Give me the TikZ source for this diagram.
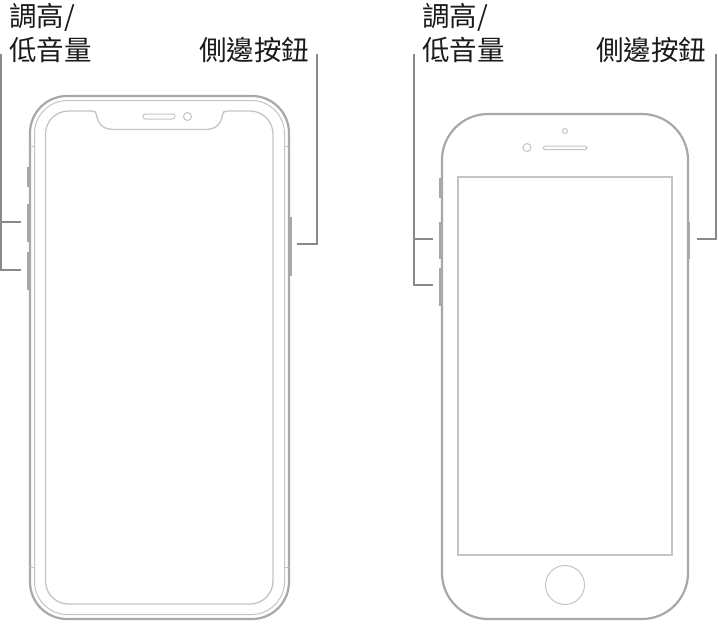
\documentclass[tikz,border=0pt]{standalone}
\usepackage{fontspec}
\newfontfamily\cjk{Noto Sans CJK TC}
\usepackage{xcolor}
\definecolor{body}{HTML}{A8A8A8}
\definecolor{thin}{HTML}{C4C4C4}
\definecolor{lead}{HTML}{8A8A8A}
\definecolor{ink}{HTML}{1A1A1A}
\tikzset{
  shell/.style={draw=body, line width=2.2pt, line join=round},
  glass/.style={draw=thin, line width=1.3pt},
  hair/.style={draw=thin, line width=1pt},
  key/.style={draw=body, line width=2.4pt},
  leader/.style={draw=lead, line width=1.8pt, line join=miter},
  lab/.style={text=ink, font=\cjk\fontsize{27.5}{27.5}\selectfont, anchor=base west, inner sep=0pt},
}
\begin{document}
\begin{tikzpicture}[x=1pt,y=-1pt]
  \useasboundingbox (0,0) rectangle (718,625);
  % phone with notch
  \draw[shell,rounded corners=37] (30,96) rectangle (289,619);
  \draw[hair,rounded corners=33] (34.5,100.5) rectangle (284.5,614.5);
  \draw[glass] (92,111) .. controls (95,111) and (96,112) .. (96.5,115) .. controls (98,124) and (103,129.5) .. (114,129.5) -- (205,129.5) .. controls (216,129.5) and (221,124) .. (222.5,115) .. controls (223,112) and (224,111) .. (227,111)
    [rounded corners=23] -- (273,111) -- (273,604) -- (45.5,604) -- (45.5,111) [sharp corners] -- cycle;
  \draw[hair,rounded corners=2.5] (143,114) rectangle (175,119);
  \draw[hair] (187.5,116.5) circle (4);
  \foreach \Y in {146,567}{
    \draw[hair] (30,\Y) -- (34.5,\Y);
    \draw[hair] (284.5,\Y) -- (289,\Y);
  }
  \foreach \A/\B in {167/187,204/242,252/290}
    \draw[key] (28,\A) -- (28,\B);
  \draw[key] (290.5,217) -- (290.5,276);
  % phone with home button
  \draw[shell,rounded corners=46] (442,114) rectangle (688,619);
  \draw[glass] (458,177) rectangle (672,555);
  \draw[hair,rounded corners=1.7] (543,146) rectangle (587,149.5);
  \draw[hair] (527,147.5) circle (4);
  \draw[hair] (565,131) circle (2.5);
  \draw[hair] (565,585) circle (19.5);
  \foreach \A/\B in {178/198,222/259,268/306}
    \draw[key] (440,\A) -- (440,\B);
  \draw[key] (689,222) -- (689,259);
  % labels
  \node[lab] (volA) at (9,26) {調高/};
  \node[lab] (volB) at (9,60) {低音量};
  \node[lab] (sideA) at (199,60) {側邊按鈕};
  \node[lab] (volC) at (422,26) {調高/};
  \node[lab] (volD) at (422,60) {低音量};
  \node[lab] (sideB) at (596,60) {側邊按鈕};
  % leaders
  \coordinate (topA) at (1,54);
  \coordinate (upA) at (21,222);
  \coordinate (loA) at (21,270);
  \coordinate (topB) at (317,54);
  \coordinate (keyB) at (297,244);
  \coordinate (topC) at (414,54);
  \coordinate (upC) at (433,239);
  \coordinate (loC) at (433,285);
  \coordinate (topD) at (716,54);
  \coordinate (keyD) at (697,239);
  \draw[leader] (topA) |- (loA);
  \draw[leader] (topA |- upA) -- (upA);
  \draw[leader] (topB) |- (keyB);
  \draw[leader] (topC) |- (loC);
  \draw[leader] (topC |- upC) -- (upC);
  \draw[leader] (topD) |- (keyD);
\end{tikzpicture}
\end{document}
